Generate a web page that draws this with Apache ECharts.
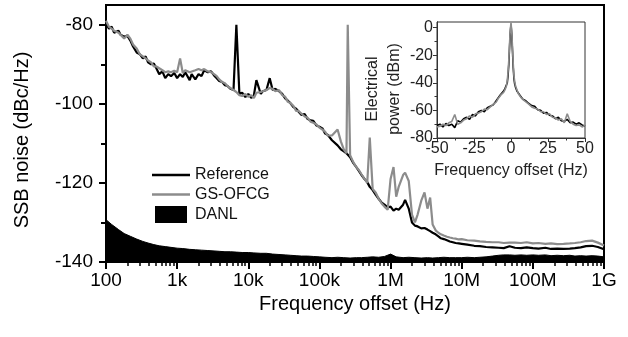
<!DOCTYPE html>
<html>
<head>
<meta charset="utf-8">
<script src="https://cdn.jsdelivr.net/npm/echarts@6/dist/echarts.min.js"></script>
<style>
html,body{margin:0;padding:0;background:#fff;}
#chart{width:628px;height:337px;}
</style>
</head>
<body>
<div id="chart"></div>
<script>
// ---------- Main chart data ----------
const freqs = [
  100,110,120,130,150,160,180,200,220,240,270,300,330,360,390,430,470,510,560,620,680,750,820,910,
  1000,1100,1200,1300,1500,1600,1800,2000,2200,2400,2700,3000,3300,3600,3900,4300,4700,5100,5600,6200,6800,7500,8200,9100,
  1e4,1.1e4,1.2e4,1.3e4,1.5e4,1.6e4,1.8e4,2e4,2.2e4,2.4e4,2.7e4,3e4,3.3e4,3.6e4,3.9e4,4.3e4,4.7e4,5.1e4,5.6e4,6.2e4,6.8e4,7.5e4,8.2e4,9.1e4,
  1e5,1.1e5,1.2e5,1.3e5,1.5e5,1.6e5,1.8e5,2e5,2.2e5,2.4e5,2.5e5,2.7e5,3e5,3.3e5,3.6e5,3.9e5,4.3e5,4.7e5,5.1e5,5.6e5,6.2e5,6.8e5,7.5e5,8.2e5,9.1e5,
  1e6,1.1e6,1.2e6,1.3e6,1.5e6,1.6e6,1.8e6,2e6,2.2e6,2.4e6,2.7e6,3e6,3.3e6,3.6e6,3.9e6,4.3e6,4.7e6,5.1e6,5.6e6,6.2e6,6.8e6,7.5e6,8.2e6,9.1e6,
  1e7,1.2e7,1.5e7,1.8e7,2.2e7,2.7e7,3.3e7,3.9e7,4.7e7,5.6e7,6.8e7,8.2e7,
  1e8,1.2e8,1.5e8,1.8e8,2.2e8,2.7e8,3.3e8,3.9e8,4.7e8,5.6e8,6.8e8,8.2e8,1e9
];
const referenceNoise = [
  -79.5,-81,-80.5,-82,-81.5,-82.5,-83,-82.8,-84,-85.5,-87,-87.5,-88.5,-88,-89.5,-90,-89.8,-91,-92.5,-91.8,-93.5,-92.5,-93,-92.2,
  -93.5,-92.5,-93.2,-92,-94,-92.5,-93.8,-92.5,-93,-91.5,-92,-91.8,-92.8,-93.5,-94.2,-94.5,-95.3,-95.5,-96.2,-96.5,-80,-97.5,-97.2,-98.3,
  -97.5,-98.5,-97.8,-94,-97.5,-96.8,-96.5,-93.5,-96.5,-96.2,-96.8,-97.5,-98.6,-99.2,-99.8,-100.8,-101.2,-102,-102.8,-102.6,-103.8,-104.2,-104.3,-105.5,
  -105.8,-106.2,-107.5,-107.8,-109.2,-109.6,-110.5,-111.5,-112,-112.5,-113,-113.5,-115,-116,-117,-118,-119,-119.8,-121,-121.8,-123,-124,-125,-125.5,-126.2,
  -126,-127,-126.5,-126.8,-125.5,-124.3,-126.5,-130,-130.8,-131,-131.5,-131.4,-131.8,-132.2,-132.6,-133,-133.5,-134,-134.2,-134.5,-134.8,-135,-135.2,-135.3,
  -135.4,-135.6,-135.9,-136,-136.2,-136.3,-136.4,-136.5,-136,-136.4,-136.5,-136.3,
  -136.5,-136.6,-136.4,-136.7,-136.6,-136.7,-136.6,-136.5,-136.3,-136,-135.9,-136.2,-136.8
];
const gsOfcgNoise = [
  -79,-80.5,-81,-81.5,-82,-81.8,-83.5,-82.5,-83.5,-85,-86,-87.5,-88,-88.5,-89,-89.5,-90.5,-90.5,-91,-91.5,-92,-91.8,-92,-91.6,
  -92,-88.5,-92.2,-91.5,-92,-91.8,-91.5,-91.2,-91.5,-91.2,-91.8,-92,-92.5,-93,-93.8,-94.5,-94.8,-95.5,-96,-96.5,-97,-97.8,-98,-97.5,
  -98.2,-97.8,-98.5,-97.2,-97,-97.5,-96.5,-96,-96.2,-96.8,-96.5,-97.8,-98.2,-99.5,-99.8,-100.5,-101.8,-101.8,-102.5,-103.2,-103.5,-104.5,-104.8,-105.2,
  -106,-106.5,-107,-108,-108,-107.5,-106.5,-109.5,-111.5,-112.5,-80,-113,-114.8,-116,-116.8,-117.8,-119,-120,-108.5,-121.5,-122.5,-124,-125.2,-126,-126.8,
  -119,-116,-123.5,-121,-118,-117.4,-119.5,-128,-130,-128,-124.5,-122.4,-126.5,-123.7,-130.5,-132,-132.6,-133,-133.3,-133.6,-133.8,-134,-134.1,-134.3,
  -134.2,-134.5,-134.6,-134.8,-134.9,-135,-135,-135.2,-135.1,-135.1,-135.2,-135,
  -135.3,-135.2,-135.4,-135.3,-135.5,-135.4,-135.3,-135.2,-135,-134.7,-134.6,-135.1,-135.8
];
const danlFreqs = [
  100,120,150,180,220,270,330,390,470,560,680,820,
  1000,1200,1500,1800,2200,2700,3300,3900,4700,5600,6800,8200,
  1e4,1.2e4,1.5e4,1.8e4,2.2e4,2.7e4,3.3e4,3.9e4,4.7e4,5.6e4,6.8e4,8.2e4,
  1e5,1.2e5,1.5e5,1.8e5,2.2e5,2.7e5,3.3e5,3.9e5,4.7e5,5.6e5,6.8e5,8.2e5,
  1e6,1.2e6,1.5e6,1.8e6,2.2e6,2.7e6,3.3e6,3.9e6,4.7e6,5.6e6,6.8e6,8.2e6,
  1e7,1.2e7,1.5e7,1.8e7,2.2e7,2.7e7,3.3e7,3.9e7,4.7e7,5.6e7,6.8e7,8.2e7,
  1e8,1.2e8,1.5e8,1.8e8,2.2e8,2.7e8,3.3e8,3.9e8,4.7e8,5.6e8,6.8e8,8.2e8,1e9
];
const danlLevel = [
  -129.3,-130.5,-131.8,-132.8,-133.5,-134.2,-134.8,-135.2,-135.6,-135.9,-136.1,-136.3,
  -136.5,-136.6,-136.8,-136.9,-137,-137.1,-137.2,-137.3,-137.4,-137.4,-137.5,-137.6,
  -137.6,-137.7,-137.8,-137.8,-138,-138.1,-138.2,-138.3,-138.4,-138.5,-138.5,-138.6,
  -138.7,-138.8,-138.9,-138.8,-138.9,-139,-138.9,-138.9,-138.8,-138.7,-138.8,-138.6,
  -138,-138.7,-138.9,-138.8,-138.9,-139,-138.9,-139,-138.9,-138.8,-138.9,-138.9,
  -138.9,-138.8,-138.9,-138.8,-138.7,-138.5,-138.3,-138.2,-138.2,-138.3,-138.2,-138.3,
  -138.2,-138.3,-138.2,-138.4,-138.3,-138.4,-138.3,-138.5,-138.4,-138.5,-138.4,-138.5,-138.7
];
const xTickValues = [100,1e3,1e4,1e5,1e6,1e7,1e8,1e9];
const xTickLabels = ['100','1k','10k','100k','1M','10M','100M','1G'];
const yTickValues = [-140,-120,-100,-80];
const yMinorTickValues = [-130,-110,-90];

// ---------- Inset data ----------
const insetOffset = [
  -50,-48,-46,-44,-42,-40,-38,-36,-34,-32,-30,-28,-26,-24,-22,-20,-18,-16,-14,-12,
  -10,-9,-8,-7,-6,-5,-4,-3,
  -2.5,-2,-1.5,-1,-0.5,0,0.5,1,1.5,2,2.5,
  3,4,5,6,7,8,9,10,
  12,14,16,18,20,22,24,26,28,30,32,34,36,38,40,42,44,46,48,50
];
const insetReference = [
  -71,-70,-72,-69.5,-71,-70,-72.5,-67.5,-68.5,-66,-65,-66.5,-63,-64,-61,-60,-61,-58,-57,-56,
  -53,-52.5,-50,-48.5,-49,-46,-44,-44,
  -40,-35,-27,-15,-4,2.5,-5,-17,-29,-37,-41,
  -43,-46,-47,-49,-50.5,-52,-51.5,-53,
  -55,-56.5,-57,-59.5,-60,-62,-61.5,-63.5,-64,-66,-65,-67.5,-68,-66.5,-69,-68.5,-70,-69,-70.5,-71.5
];
const insetGsOfcg = [
  -72,-71.5,-70,-71,-69,-68,-63,-70,-69,-67,-66,-64,-65,-62.5,-62,-61,-59,-59.5,-57.5,-55.5,
  -54,-52,-51,-49,-48,-47,-45,-42,
  -38,-32,-24,-12,-2,3.5,-3,-14,-26,-35,-39,
  -42,-45,-48,-48.5,-51,-51,-53,-54,
  -55.5,-57.5,-58.5,-59,-61,-61,-63,-62.5,-65,-65.5,-67,-66,-69,-62.5,-68,-70,-71,-70.5,-72,-71
];
const insetYTicks = [-80,-60,-40,-20,0];
const insetYMinorTicks = [-70,-50,-30,-10];

// ---------- Build ----------
const pairs = (xs, ys) => xs.map((x, i) => [x, ys[i]]);
const minorX = [];
for (let e = 2; e < 9; e++) for (let m = 2; m <= 9; m++) minorX.push(m * Math.pow(10, e));

const FONT = 'Liberation Sans, Arial, Helvetica, sans-serif';
const GRAY = '#8c8c8c';
const LINE_ICON = 'path://M0,0L38,0L38,2.4L0,2.4Z';

const chart = echarts.init(document.getElementById('chart'), null, {renderer: 'canvas'});
chart.setOption({
  animation: false,
  backgroundColor: '#fff',
  textStyle: {fontFamily: FONT},
  grid: [
    {left: 106, right: 24, top: 5, bottom: 75, show: true, borderColor: '#000', borderWidth: 2, containLabel: false},
    {left: 437, top: 22, width: 148, height: 116, show: true, borderColor: '#333', borderWidth: 1, containLabel: false}
  ],
  legend: {
    data: [
      {name: 'Reference', icon: LINE_ICON},
      {name: 'GS-OFCG', icon: LINE_ICON},
      {name: 'DANL', icon: 'path://M0,0L32,0L32,17L0,17Z'}
    ],
    orient: 'vertical', left: 152, top: 167, padding: 0, itemWidth: 38, itemHeight: 17, itemGap: 3.5,
    selectedMode: false,
    textStyle: {fontSize: 16, color: '#111', fontFamily: FONT}
  },
  xAxis: [
    {
      type: 'log', gridIndex: 0, min: 100, max: 1e9, logBase: 10, position: 'bottom',
      axisLine: {show: true, onZero: false, lineStyle: {color: '#000', width: 2}},
      axisTick: {show: true, inside: false, length: 7, customValues: xTickValues, lineStyle: {color: '#000', width: 2}},
      axisLabel: {
        customValues: xTickValues, fontSize: 19, color: '#000', margin: 9, fontFamily: FONT,
        formatter: function (v) {
          const i = xTickValues.findIndex(t => Math.abs(Math.log10(t) - Math.log10(v)) < 1e-6);
          return i >= 0 ? xTickLabels[i] : '';
        }
      },
      splitLine: {show: false}, minorTick: {show: false},
      name: 'Frequency offset (Hz)', nameLocation: 'middle', nameGap: 25,
      nameTextStyle: {fontSize: 20, color: '#000', fontFamily: FONT}
    },
    {
      type: 'log', gridIndex: 0, min: 100, max: 1e9, logBase: 10, position: 'bottom',
      axisLine: {show: true, onZero: false, lineStyle: {color: '#000', width: 2}},
      axisTick: {show: true, inside: false, length: 4, customValues: minorX, lineStyle: {color: '#000', width: 1.5}},
      axisLabel: {show: false}, splitLine: {show: false}
    },
    {
      type: 'value', gridIndex: 1, min: -50, max: 50, interval: 25, position: 'bottom',
      axisLine: {show: true, onZero: false, lineStyle: {color: '#333', width: 1}},
      axisTick: {show: true, inside: false, length: 4, lineStyle: {color: '#333', width: 1}},
      minorTick: {show: true, splitNumber: 2, length: 2.5, lineStyle: {color: '#333', width: 1}},
      axisLabel: {fontSize: 16, color: '#222', margin: 3, fontFamily: FONT},
      splitLine: {show: false},
      name: 'Frequency offset (Hz)', nameLocation: 'middle', nameGap: 25,
      nameTextStyle: {fontSize: 16, color: '#222', fontFamily: FONT}
    }
  ],
  yAxis: [
    {
      type: 'value', gridIndex: 0, min: -140, max: -75, position: 'left',
      axisLine: {show: true, onZero: false, lineStyle: {color: '#000', width: 2}},
      axisTick: {show: true, inside: false, length: 7, customValues: yTickValues, lineStyle: {color: '#000', width: 2}},
      axisLabel: {customValues: yTickValues, fontSize: 19, color: '#000', margin: 13, fontFamily: FONT},
      splitLine: {show: false},
      name: 'SSB noise (dBc/Hz)', nameLocation: 'middle', nameGap: 74,
      nameTextStyle: {fontSize: 20, color: '#000', fontFamily: FONT, padding: [0, 13, 0, 0]}
    },
    {
      type: 'value', gridIndex: 0, min: -140, max: -75, position: 'left',
      axisLine: {show: true, onZero: false, lineStyle: {color: '#000', width: 2}},
      axisTick: {show: true, inside: false, length: 5, customValues: yMinorTickValues, lineStyle: {color: '#000', width: 2}},
      axisLabel: {show: false}, splitLine: {show: false}
    },
    {
      type: 'value', gridIndex: 1, min: -80, max: 4, position: 'left',
      axisLine: {show: true, onZero: false, lineStyle: {color: '#333', width: 1}},
      axisTick: {show: true, inside: false, length: 4, customValues: insetYTicks, lineStyle: {color: '#333', width: 1}},
      axisLabel: {customValues: insetYTicks, fontSize: 16, color: '#222', margin: 4, fontFamily: FONT},
      splitLine: {show: false},
      name: 'Electrical\npower (dBm)', nameLocation: 'middle', nameGap: 28,
      nameTextStyle: {fontSize: 16, lineHeight: 22, color: '#222', fontFamily: FONT, padding: [0, 18, 0, 0]}
    },
    {
      type: 'value', gridIndex: 1, min: -80, max: 4, position: 'left',
      axisLine: {show: true, onZero: false, lineStyle: {color: '#333', width: 1}},
      axisTick: {show: true, inside: false, length: 2.5, customValues: insetYMinorTicks, lineStyle: {color: '#333', width: 1}},
      axisLabel: {show: false}, splitLine: {show: false}
    }
  ],
  series: [
    {
      name: 'DANL', type: 'line', xAxisIndex: 0, yAxisIndex: 0,
      data: pairs(danlFreqs, danlLevel), symbol: 'none', showSymbol: false,
      lineStyle: {color: '#000', width: 1}, itemStyle: {color: '#000'},
      areaStyle: {color: '#000', opacity: 1, origin: 'start'}, z: 2
    },
    {
      name: 'Reference', type: 'line', xAxisIndex: 0, yAxisIndex: 0,
      data: pairs(freqs, referenceNoise), symbol: 'none', showSymbol: false,
      lineStyle: {color: '#000', width: 2.2}, itemStyle: {color: '#000'}, z: 3
    },
    {
      name: 'GS-OFCG', type: 'line', xAxisIndex: 0, yAxisIndex: 0,
      data: pairs(freqs, gsOfcgNoise), symbol: 'none', showSymbol: false,
      lineStyle: {color: GRAY, width: 2.2}, itemStyle: {color: GRAY}, z: 4
    },
    {
      name: 'Reference spectrum', type: 'line', xAxisIndex: 2, yAxisIndex: 2,
      data: pairs(insetOffset, insetReference), symbol: 'none', showSymbol: false,
      lineStyle: {color: '#000', width: 1.6}, itemStyle: {color: '#000'}, z: 3
    },
    {
      name: 'GS-OFCG spectrum', type: 'line', xAxisIndex: 2, yAxisIndex: 2,
      data: pairs(insetOffset, insetGsOfcg), symbol: 'none', showSymbol: false,
      lineStyle: {color: GRAY, width: 1.6}, itemStyle: {color: GRAY}, z: 4
    }
  ]
});
</script>
</body>
</html>
